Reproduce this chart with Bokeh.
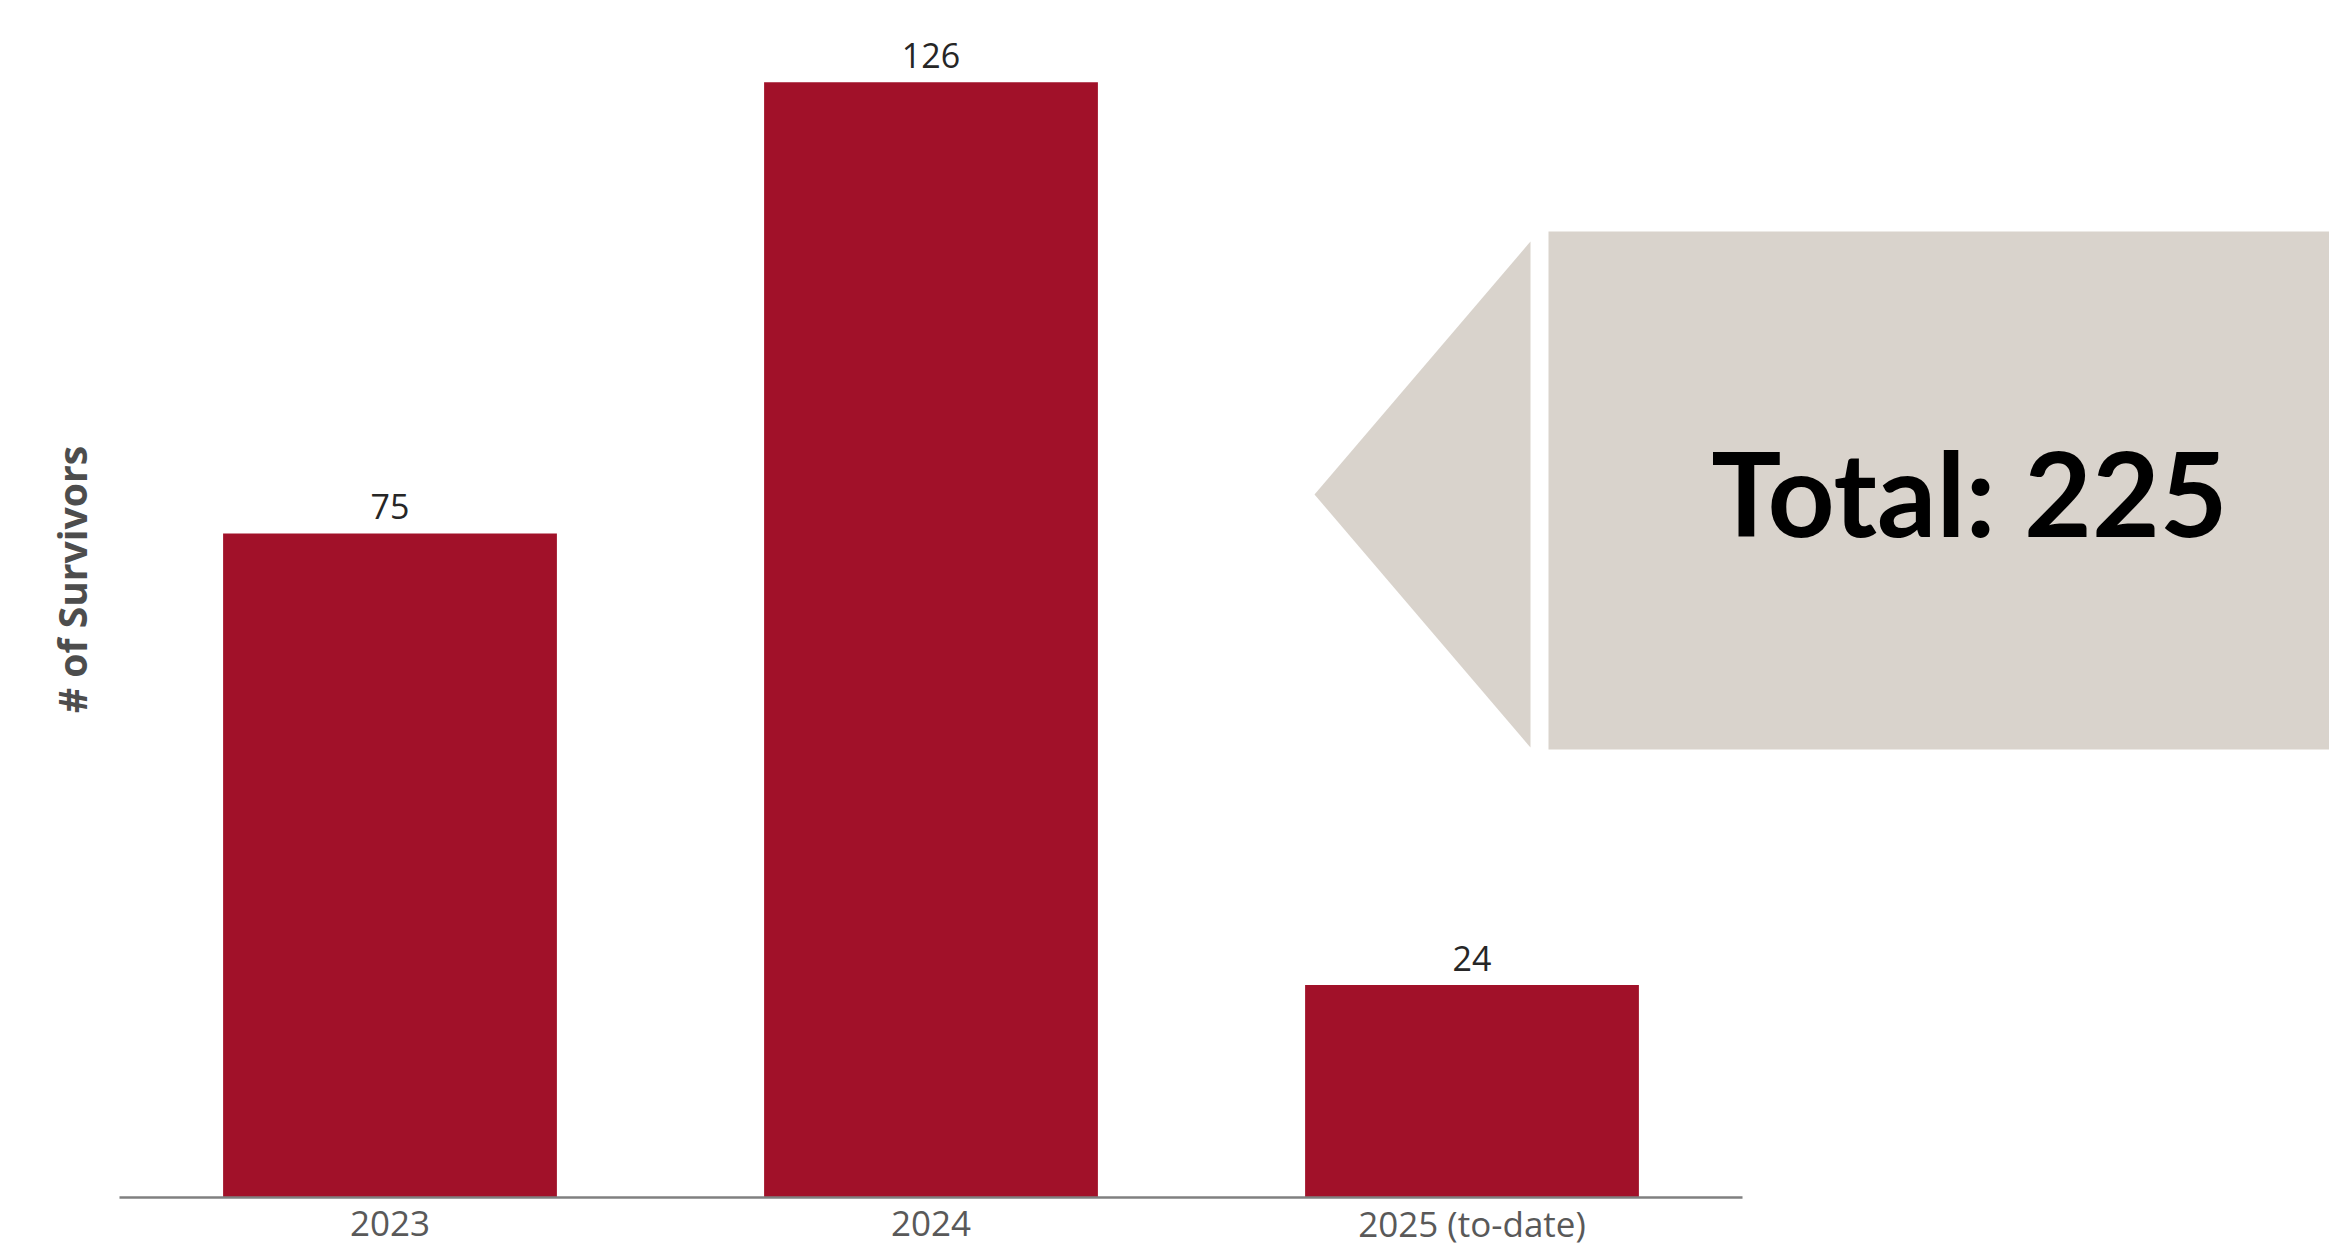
import math
from bokeh.plotting import figure
from bokeh.models import Range1d, Label
from bokeh.core.properties import value
from bokeh.embed import file_html
from bokeh.resources import INLINE

# ---- data ----
categories = ["2023", "2024", "2025 (to-date)"]
survivors = [75, 126, 24]
y_axis_title = "# of Survivors"
total_prefix = "Total: "

# ---- style ----
BAR_COLOR = "#A11129"
CALLOUT_COLOR = "#D9D3CC"
AXIS_COLOR = "#808080"

W, H = 2329, 1249
# canvas pixel <-> data mapping
X0_PX = 389.5    # canvas px of first category centre
X_STEP = 541.0   # px per category
Y0_PX = 1197.0   # canvas px of zero
Y_STEP = 8.852   # px per survivor


def dx(px):
    return (px - X0_PX) / X_STEP


def dy(py):
    return (Y0_PX - py) / Y_STEP


p = figure(width=W, height=H, output_backend="svg", toolbar_location=None,
           x_range=Range1d(dx(0), dx(W)), y_range=Range1d(dy(H), dy(0)),
           x_axis_location=None, y_axis_location=None, min_border=0)
p.grid.visible = False
p.outline_line_color = None
p.background_fill_color = "white"
p.border_fill_color = "white"

xs = list(range(len(categories)))

# bars
p.vbar(x=xs, top=survivors, bottom=0, width=0.617, fill_color=BAR_COLOR, line_color=None)

# baseline (category axis line)
p.segment(x0=[-0.5], x1=[len(categories) - 0.5], y0=[0], y1=[0],
          line_color=AXIS_COLOR, line_width=2.5)

# value labels
p.text(x=xs, y=survivors, text=[str(v) for v in survivors],
       text_align="center", text_baseline="alphabetic", y_offset=-27,
       text_font=value("Open Sans"), text_font_size="34px", text_color="#262626")

# category labels
p.text(x=xs, y=[0] * len(xs), text=categories,
       text_align="center", text_baseline="alphabetic", y_offset=26,
       text_font=value("Open Sans"), text_font_size="35px", text_color="#595959")

# callout arrow + box
p.patch(x=[dx(1314), dx(1530), dx(1530)], y=[dy(494), dy(241), dy(747)],
        fill_color=CALLOUT_COLOR, line_color=None)
p.quad(left=[dx(1548)], right=[dx(W + 5)], top=[dy(231)], bottom=[dy(749)],
       fill_color=CALLOUT_COLOR, line_color=None)

p.text(x=[dx(1969)], y=[dy(535)], text=[f"{total_prefix}{sum(survivors)}"],
       text_align="center", text_baseline="alphabetic", y_offset=-44,
       text_font=value("Lato"), text_font_style="bold", text_font_size="117px",
       text_color="#000000")

# y axis title
p.add_layout(Label(x=dx(71), y=dy(579), text=y_axis_title, angle=math.pi / 2,
                   text_align="center", text_baseline="middle",
                   text_font="Open Sans", text_font_style="bold",
                   text_font_size="39px", text_color="#4D4D4D"))

open("out.html", "w").write(file_html(p, INLINE))
